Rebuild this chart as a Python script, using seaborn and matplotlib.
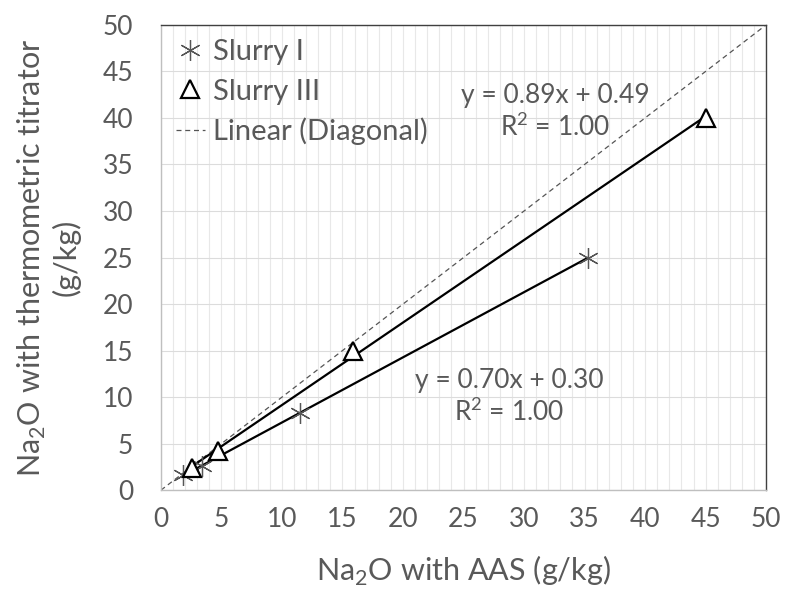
import numpy as np
import pandas as pd
import seaborn as sns
import matplotlib.pyplot as plt
from matplotlib.ticker import MultipleLocator

# --- Data ---
slurry1_x = [1.8, 3.4, 11.5, 35.3]
slurry1_y = [1.6, 2.6, 8.3, 25.0]
slurry3_x = [2.6, 4.7, 15.9, 45.0]
slurry3_y = [2.4, 4.2, 15.0, 40.0]
diag_x = [0, 50]
diag_y = [0, 50]

fit1_text = 'y = 0.70x + 0.30\nR$^2$ = 1.00'
fit3_text = 'y = 0.89x + 0.49\nR$^2$ = 1.00'

s1 = pd.DataFrame({'x': slurry1_x, 'y': slurry1_y})
s3 = pd.DataFrame({'x': slurry3_x, 'y': slurry3_y})

sns.set_style('white')
plt.rcParams['font.family'] = ['Lato', 'DejaVu Sans']
plt.rcParams['mathtext.fontset'] = 'custom'
plt.rcParams['mathtext.rm'] = 'Lato'
txt = '#595959'

fig, ax = plt.subplots(figsize=(7.85, 5.92), dpi=100)
fig.subplots_adjust(left=0.205, right=0.976, top=0.958, bottom=0.172)

# --- Gridlines ---
ax.xaxis.set_major_locator(MultipleLocator(5))
ax.xaxis.set_minor_locator(MultipleLocator(1))
ax.yaxis.set_major_locator(MultipleLocator(5))
ax.grid(which='both', axis='x', color='#e8e8e8', lw=0.8)
ax.grid(which='major', axis='y', color='#dcdcdc', lw=0.8)
ax.set_axisbelow(True)

# --- Diagonal ---
ax.plot(diag_x, diag_y, ls=(0, (4, 3)), color='#555555', lw=0.9,
        label='Linear (Diagonal)', zorder=2)

# --- Trend lines ---
sns.regplot(data=s1, x='x', y='y', ci=None, scatter=False, ax=ax,
            line_kws={'color': 'black', 'lw': 1.6, 'zorder': 3})
sns.regplot(data=s3, x='x', y='y', ci=None, scatter=False, ax=ax,
            line_kws={'color': 'black', 'lw': 1.6, 'zorder': 3})

# --- Markers ---
ax.plot(s1['x'], s1['y'], ls='none', marker=(6, 2, 0), ms=15, mew=0.9,
        color='#555555', label='Slurry I', zorder=4)
ax.plot(s3['x'], s3['y'], ls='none', marker='^', ms=13, mew=1.6,
        mfc='white', mec='black', label='Slurry III', zorder=4)

# --- Equations ---
ax.text(32.6, 40.6, fit3_text, ha='center', va='center', fontsize=19,
        color=txt, linespacing=1.2)
ax.text(28.8, 10.0, fit1_text, ha='center', va='center', fontsize=19,
        color=txt, linespacing=1.2)

ax.set_xlim(0, 50)
ax.set_ylim(0, 50)

for side in ['top', 'right']:
    ax.spines[side].set_color('#404040')
    ax.spines[side].set_linewidth(1.0)
for side in ['left', 'bottom']:
    ax.spines[side].set_color('#bfbfbf')
    ax.spines[side].set_linewidth(1.0)

ax.tick_params(axis='both', which='both', length=0, labelsize=19,
               labelcolor=txt)
ax.tick_params(axis='x', pad=12)
ax.tick_params(axis='y', pad=20)

ax.set_xlabel('Na$_2$O with AAS (g/kg)', fontsize=22, color=txt, labelpad=16)
ax.set_ylabel('Na$_2$O with thermometric titrator\n(g/kg)', fontsize=22,
              color=txt, labelpad=16, linespacing=1.15)

handles, labels = ax.get_legend_handles_labels()
order = [labels.index(l) for l in ['Slurry I', 'Slurry III', 'Linear (Diagonal)']]
leg = ax.legend([handles[i] for i in order], [labels[i] for i in order],
                loc='upper left', frameon=False, fontsize=21,
                handlelength=1.0, handletextpad=0.3, borderaxespad=0.2,
                borderpad=0.3, labelspacing=0.45, labelcolor=txt)

fig.savefig('out.png', dpi=100)
